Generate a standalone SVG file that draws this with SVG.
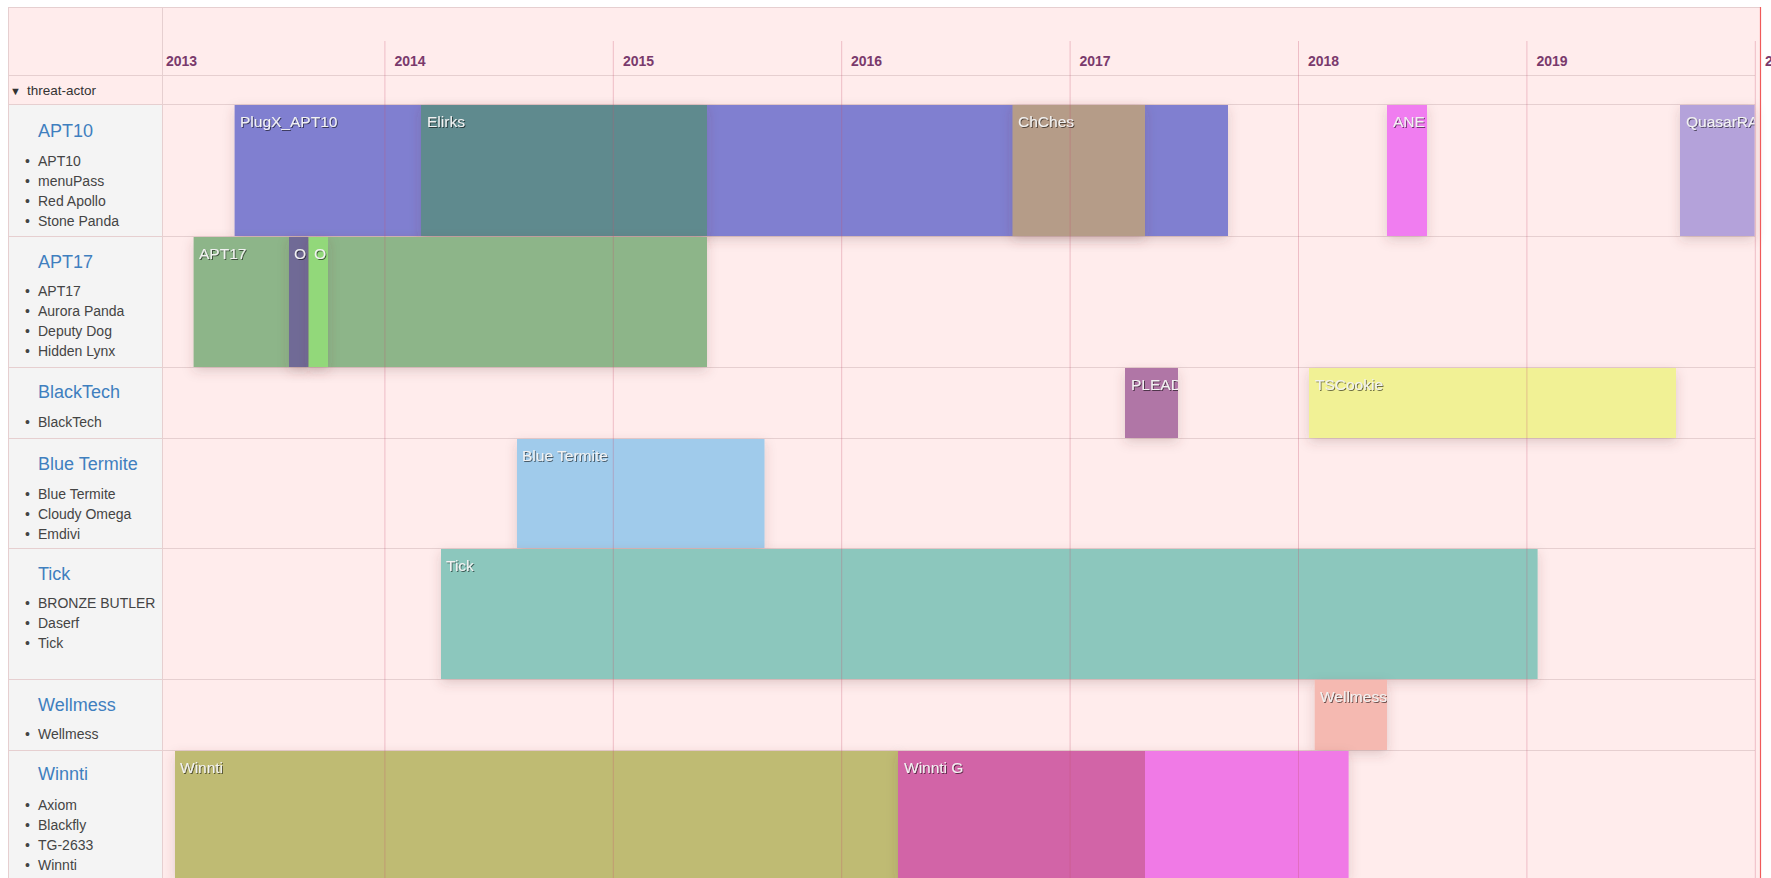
<svg xmlns="http://www.w3.org/2000/svg" width="1771" height="878" viewBox="0 0 1771 878">
<style>
text{font-family:"Liberation Sans",Arial,sans-serif}
.yr{font-size:14px;font-weight:bold;fill:#7a3a6c}
.ttl{font-size:18px;fill:#3f7fbf}
.itm{font-size:14px;fill:#444}
.lbl{font-size:15.5px;fill:#f2f2f2;filter:url(#ts)}
.row{stroke:#e6cfd0;stroke-width:1}
.yl{stroke:#c8506e;stroke-opacity:0.3;stroke-width:1}
.bar{filter:url(#bs)}
</style>
<defs>
<filter id="ts" x="-10%" y="-30%" width="130%" height="170%">
<feDropShadow dx="1" dy="1" stdDeviation="0.6" flood-color="#000" flood-opacity="0.55"/>
</filter>
<filter id="bs" x="-60%" y="-20%" width="220%" height="150%">
<feDropShadow dx="0" dy="4" stdDeviation="6" flood-color="#6a3a3a" flood-opacity="0.2"/>
</filter>
<clipPath id="cANE"><rect x="1387" y="105" width="40" height="131"/></clipPath>
<clipPath id="cQRA"><rect x="1680" y="105" width="74.6" height="131"/></clipPath>
<clipPath id="cO1"><rect x="289" y="237" width="19" height="130"/></clipPath>
<clipPath id="cO2"><rect x="309" y="237" width="19" height="130"/></clipPath>
<clipPath id="cPLD"><rect x="1125" y="368" width="53" height="70"/></clipPath>
<clipPath id="cWel"><rect x="1314.7" y="680" width="72.3" height="70"/></clipPath>
</defs>

<rect x="0" y="0" width="1771" height="878" fill="#ffffff"/>
<rect x="8" y="7" width="1752" height="871" fill="#ffecec"/>
<rect x="8" y="104" width="154" height="774" fill="#f4f4f4"/>

<g id="grid">
<line class="row" x1="8" y1="7.5" x2="1760" y2="7.5"/>
<line class="row" x1="8.5" y1="7" x2="8.5" y2="878"/>
<line class="row" x1="8" y1="75.5" x2="1755" y2="75.5"/>
<line class="row" x1="8" y1="104.5" x2="1755" y2="104.5"/>
<line class="row" x1="8" y1="236.5" x2="1755" y2="236.5"/>
<line class="row" x1="8" y1="367.5" x2="1755" y2="367.5"/>
<line class="row" x1="8" y1="438.5" x2="1755" y2="438.5"/>
<line class="row" x1="8" y1="548.5" x2="1755" y2="548.5"/>
<line class="row" x1="8" y1="679.5" x2="1755" y2="679.5"/>
<line class="row" x1="8" y1="750.5" x2="1755" y2="750.5"/>
<line class="row" x1="162.5" y1="7" x2="162.5" y2="878"/>
</g>

<g id="header">
<text class="yr" x="166" y="66">2013</text>
<text class="yr" x="394.5" y="66">2014</text>
<text class="yr" x="623" y="66">2015</text>
<text class="yr" x="851" y="66">2016</text>
<text class="yr" x="1079.5" y="66">2017</text>
<text class="yr" x="1308" y="66">2018</text>
<text class="yr" x="1536.5" y="66">2019</text>
<text class="yr" x="1765" y="66">2020</text>
<text x="10" y="95" font-size="11" fill="#333">▼</text>
<text x="27" y="95" font-size="13.5" fill="#333">threat-actor</text>
</g>

<g id="APT10">
<text class="ttl" x="38" y="137">APT10</text>
<text class="itm" y="166"><tspan x="25">•</tspan><tspan x="38">APT10</tspan></text>
<text class="itm" y="186"><tspan x="25">•</tspan><tspan x="38">menuPass</tspan></text>
<text class="itm" y="206"><tspan x="25">•</tspan><tspan x="38">Red Apollo</tspan></text>
<text class="itm" y="226"><tspan x="25">•</tspan><tspan x="38">Stone Panda</tspan></text>
<g id="bar-PlugX_APT10"><rect class="bar" x="234.6" y="105" width="993.4" height="131" fill="#807fd0"/><text class="lbl" x="240" y="127">PlugX_APT10</text></g>
<g id="bar-Elirks"><rect class="bar" x="421" y="105" width="286" height="131" fill="#5f8a8e"/><text class="lbl" x="427" y="127" fill="#c9cedc">Elirks</text></g>
<g id="bar-ChChes"><rect class="bar" x="1012.5" y="105" width="132.5" height="131" fill="#b59c88"/><text class="lbl" x="1018" y="127">ChChes</text></g>
<g id="bar-ANEL"><rect class="bar" x="1387" y="105" width="40" height="131" fill="#f07df0"/><text class="lbl" x="1393" y="127" clip-path="url(#cANE)">ANE</text></g>
<g id="bar-QuasarRAT"><rect class="bar" x="1680" y="105" width="74.6" height="131" fill="#b4a2da"/><text class="lbl" x="1686" y="127" clip-path="url(#cQRA)">QuasarRA</text></g>
</g>

<g id="APT17">
<text class="ttl" x="38" y="268">APT17</text>
<text class="itm" y="296"><tspan x="25">•</tspan><tspan x="38">APT17</tspan></text>
<text class="itm" y="316"><tspan x="25">•</tspan><tspan x="38">Aurora Panda</tspan></text>
<text class="itm" y="336"><tspan x="25">•</tspan><tspan x="38">Deputy Dog</tspan></text>
<text class="itm" y="356"><tspan x="25">•</tspan><tspan x="38">Hidden Lynx</tspan></text>
<g id="bar-APT17"><rect class="bar" x="193.6" y="237" width="513.4" height="130" fill="#8db589"/><text class="lbl" x="199" y="259">APT17</text></g>
<g id="bar-O1"><rect class="bar" x="289" y="237" width="19" height="130" fill="#6f6a96"/><text class="lbl" x="294" y="259" clip-path="url(#cO1)">O</text></g>
<g id="bar-O2"><rect class="bar" x="309" y="237" width="19" height="130" fill="#92d87a"/><text class="lbl" x="314" y="259" clip-path="url(#cO2)">O</text></g>
</g>

<g id="BlackTech">
<text class="ttl" x="38" y="398">BlackTech</text>
<text class="itm" y="427"><tspan x="25">•</tspan><tspan x="38">BlackTech</tspan></text>
<g id="bar-PLEAD"><rect class="bar" x="1125" y="368" width="53" height="70" fill="#b076a6"/><text class="lbl" x="1131" y="390" clip-path="url(#cPLD)">PLEAD</text></g>
<g id="bar-TSCookie"><rect class="bar" x="1309" y="368" width="367" height="70" fill="#f1f195"/><text class="lbl" x="1315" y="390">TSCookie</text></g>
</g>

<g id="BlueTermite">
<text class="ttl" x="38" y="470">Blue Termite</text>
<text class="itm" y="499"><tspan x="25">•</tspan><tspan x="38">Blue Termite</tspan></text>
<text class="itm" y="519"><tspan x="25">•</tspan><tspan x="38">Cloudy Omega</tspan></text>
<text class="itm" y="539"><tspan x="25">•</tspan><tspan x="38">Emdivi</tspan></text>
<g id="bar-BlueTermite"><rect class="bar" x="517" y="439" width="247.5" height="109" fill="#a0cbeb"/><text class="lbl" x="522" y="461">Blue Termite</text></g>
</g>

<g id="Tick">
<text class="ttl" x="38" y="580">Tick</text>
<text class="itm" y="608"><tspan x="25">•</tspan><tspan x="38">BRONZE BUTLER</tspan></text>
<text class="itm" y="628"><tspan x="25">•</tspan><tspan x="38">Daserf</tspan></text>
<text class="itm" y="648"><tspan x="25">•</tspan><tspan x="38">Tick</tspan></text>
<g id="bar-Tick"><rect class="bar" x="441" y="549" width="1096.6" height="130" fill="#8cc7bd"/><text class="lbl" x="446" y="571">Tick</text></g>
</g>

<g id="Wellmess">
<text class="ttl" x="38" y="711">Wellmess</text>
<text class="itm" y="739"><tspan x="25">•</tspan><tspan x="38">Wellmess</tspan></text>
<g id="bar-Wellmess"><rect class="bar" x="1314.7" y="680" width="72.3" height="70" fill="#f5b9b1"/><text class="lbl" x="1320" y="702" clip-path="url(#cWel)">Wellmess</text></g>
</g>

<g id="Winnti">
<text class="ttl" x="38" y="780">Winnti</text>
<text class="itm" y="810"><tspan x="25">•</tspan><tspan x="38">Axiom</tspan></text>
<text class="itm" y="830"><tspan x="25">•</tspan><tspan x="38">Blackfly</tspan></text>
<text class="itm" y="850"><tspan x="25">•</tspan><tspan x="38">TG-2633</tspan></text>
<text class="itm" y="870"><tspan x="25">•</tspan><tspan x="38">Winnti</tspan></text>
<g id="bar-Winnti"><rect class="bar" x="175" y="751" width="723" height="127" fill="#bfbb73"/><text class="lbl" x="180" y="773">Winnti</text></g>
<g id="bar-pink"><rect class="bar" x="898" y="751" width="450.6" height="127" fill="#f07ae6"/></g>
<g id="bar-WinntiG"><rect x="898" y="751" width="247" height="127" fill="#d264a7"/><text class="lbl" x="904" y="773">Winnti G</text></g>
</g>

<g id="yearlines">
<line class="yl" x1="384.9" y1="41" x2="384.9" y2="878"/>
<line class="yl" x1="613.3" y1="41" x2="613.3" y2="878"/>
<line class="yl" x1="841.7" y1="41" x2="841.7" y2="878"/>
<line class="yl" x1="1070.1" y1="41" x2="1070.1" y2="878"/>
<line class="yl" x1="1298.5" y1="41" x2="1298.5" y2="878"/>
<line class="yl" x1="1526.9" y1="41" x2="1526.9" y2="878"/>
<line class="yl" x1="1755.3" y1="41" x2="1755.3" y2="878"/>
<line x1="1760.5" y1="7" x2="1760.5" y2="878" stroke="#f05a5a" stroke-width="1.2"/>
</g>
</svg>
